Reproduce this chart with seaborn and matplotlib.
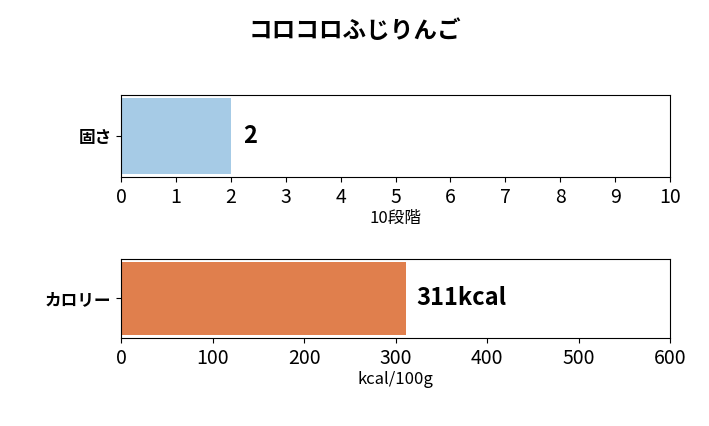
import matplotlib
matplotlib.use("Agg")
import matplotlib.pyplot as plt
import seaborn as sns
import pandas as pd

sns.set_style("ticks")
plt.rcParams['font.family'] = ['Noto Sans CJK JP', 'DejaVu Sans']
plt.rcParams['text.color'] = 'black'
plt.rcParams['xtick.color'] = 'black'
plt.rcParams['ytick.color'] = 'black'
plt.rcParams['axes.labelcolor'] = 'black'
plt.rcParams['axes.edgecolor'] = 'black'

title = "コロコロふじりんご"
hard_label = ["固さ"]
hard_value = [2]
cal_label = ["カロリー"]
cal_value = [311]

fig = plt.figure(figsize=(7.09, 4.26), dpi=100)
ax1 = fig.add_axes([0.171, 0.585, 0.774, 0.192])
ax2 = fig.add_axes([0.171, 0.207, 0.774, 0.185])

df1 = pd.DataFrame({"label": hard_label, "value": hard_value})
sns.barplot(data=df1, x="value", y="label", ax=ax1, color="#a6cbe6", width=0.92,
            saturation=1, linewidth=0)
ax1.set_xlim(0, 10)
ax1.set_xticks(range(0, 11))
ax1.set_xlabel("10段階", fontsize=12, labelpad=2)
ax1.set_ylabel("")
ax1.text(hard_value[0] + 0.22, 0, f"{hard_value[0]}", va="center", fontsize=17, fontweight="bold")

df2 = pd.DataFrame({"label": cal_label, "value": cal_value})
sns.barplot(data=df2, x="value", y="label", ax=ax2, color="#e07f4d", width=0.92,
            saturation=1, linewidth=0)
ax2.set_xlim(0, 600)
ax2.set_xticks(range(0, 601, 100))
ax2.set_xlabel("kcal/100g", fontsize=12, labelpad=2)
ax2.set_ylabel("")
ax2.text(cal_value[0] + 12, 0, f"{cal_value[0]}kcal", va="center", fontsize=17, fontweight="bold")

for ax in (ax1, ax2):
    ax.set_ylim(0.5, -0.5)
    ax.tick_params(axis="x", labelsize=14)
    ax.tick_params(axis="y", labelsize=12)
    for t in ax.get_yticklabels():
        t.set_fontweight("bold")

fig.suptitle(title, fontsize=17, fontweight="bold", y=0.955)
fig.savefig("out.png", dpi=100)
